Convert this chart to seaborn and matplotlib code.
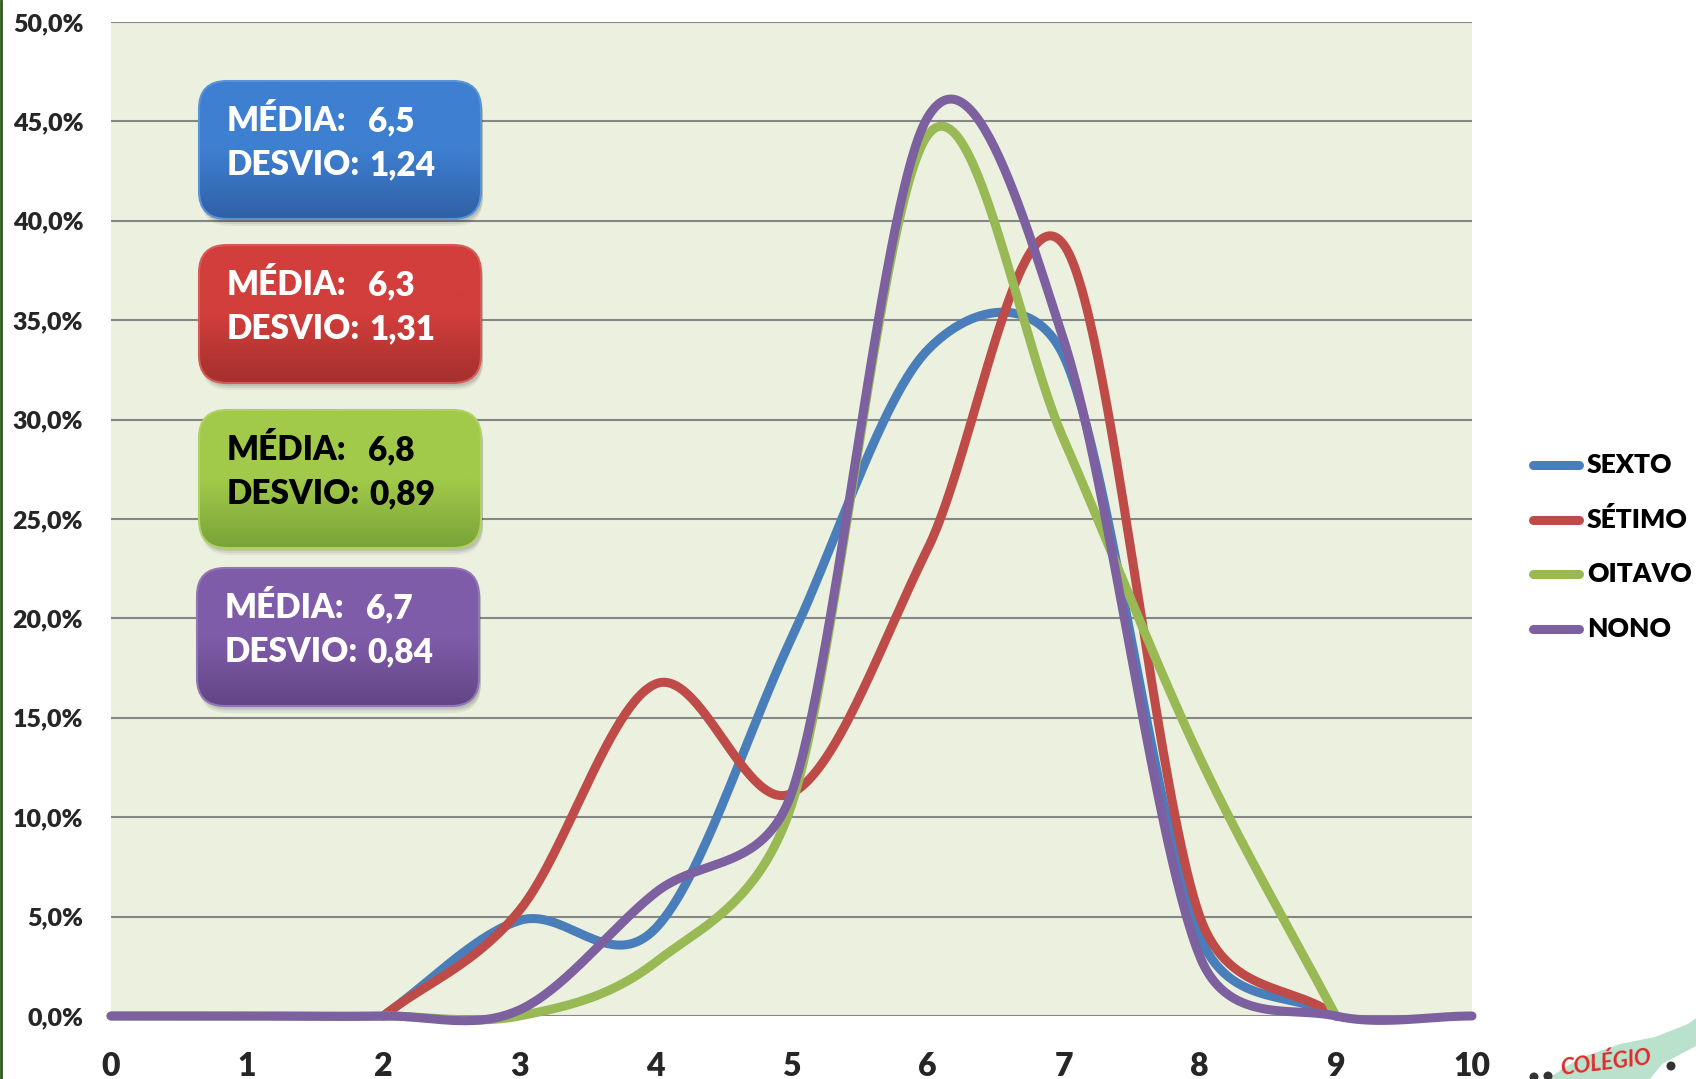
import numpy as np
import pandas as pd
import matplotlib
matplotlib.use('Agg')
import matplotlib.pyplot as plt
import seaborn as sns
from matplotlib.patches import FancyBboxPatch, Polygon, Circle
from matplotlib.colors import LinearSegmentedColormap
from matplotlib.ticker import FuncFormatter

# ---------------------------------------------------------------
# DADOS (percentual de alunos por nota; None = sem ponto)
# ---------------------------------------------------------------
notas = list(range(11))
sexto = [None, None, 0, 4.8, 4.4, 19.0, 33.5, 33.2, 4.0, 0, None]
setimo = [None, None, 0, 5.3, 16.7, 11.2, 23.5, 38.8, 5.0, 0, None]
oitavo = [0, 0, 0, 0, 2.7, 10.6, 44.3, 29.0, 13.0, 0, None]
nono = [0, 0, 0, 0.3, 6.2, 11.2, 45.2, 34.0, 3.0, 0, 0]

series = ['SEXTO', 'SÉTIMO', 'OITAVO', 'NONO']
valores = [sexto, setimo, oitavo, nono]
cores = ['#4A7EBB', '#BE4B48', '#98B954', '#7D60A0']
medias = ['6,5', '6,3', '6,8', '6,7']
desvios = ['1,24', '1,31', '0,89', '0,84']

W, H = 1696, 1079
SX = 1361 / 10.0   # pixels por nota
SY = 994 / 50.0    # pixels por ponto percentual
PESO = 'heavy'


def suaviza(xs, ys, n=60):
    # linha suavizada no estilo do Excel (Bezier com tensao 1/6)
    pares = [(x, y) for x, y in zip(xs, ys) if y is not None]
    P = np.array(pares, float) * [SX, SY]
    out = []
    for i in range(len(P) - 1):
        p1, p2 = P[i], P[i + 1]
        p0 = P[i - 1] if i > 0 else p1
        p3 = P[i + 2] if i + 2 < len(P) else p2
        d12 = np.linalg.norm(p2 - p1)
        o1 = (p2 - p0) * (1 / 6 if i > 0 else 1 / 3)
        o2 = (p3 - p1) * (1 / 6 if i + 2 < len(P) else 1 / 3)
        for o in (o1, o2):
            L = np.linalg.norm(o)
            if L > d12 / 2:
                o *= (d12 / 2) / L
        b1, b2 = p1 + o1, p2 - o2
        t = np.linspace(0, 1, n)[:, None]
        c = (1 - t) ** 3 * p1 + 3 * (1 - t) ** 2 * t * b1 + 3 * (1 - t) * t ** 2 * b2 + t ** 3 * p2
        out.append(c if i == 0 else c[1:])
    c = np.vstack(out)
    return c[:, 0] / SX, c[:, 1] / SY


frames = []
for nome, v in zip(series, valores):
    x, y = suaviza(notas, v)
    frames.append(pd.DataFrame({'nota': x, 'pct': y, 'serie': nome}))
df = pd.concat(frames, ignore_index=True)

# ---------------------------------------------------------------
# GRAFICO
# ---------------------------------------------------------------
sns.set_style('white')
plt.rcParams['font.family'] = ['Lato', 'DejaVu Sans']

fig = plt.figure(figsize=(W / 100, H / 100), dpi=100)
ax = fig.add_axes([111 / W, 1 - 1016 / H, (1472 - 111) / W, (1016 - 22) / H])

sns.lineplot(data=df, x='nota', y='pct', hue='serie', hue_order=series,
             palette=dict(zip(series, cores)), estimator=None, sort=False,
             linewidth=6.5, legend=False, ax=ax)
for ln in ax.lines:
    ln.set_clip_on(False)
    ln.set_solid_capstyle('round')
    ln.set_solid_joinstyle('round')

ax.set_xlim(0, 10)
ax.set_ylim(0, 50)
ax.set_facecolor('#EBF1DE')
ax.set_xticks(notas)
ax.set_yticks(np.arange(0, 51, 5))
ax.yaxis.set_major_formatter(FuncFormatter(lambda v, p: f'{v:.1f}%'.replace('.', ',')))
ax.grid(axis='y', color='#868686', linewidth=1.5)
ax.grid(axis='x', visible=False)
ax.set_axisbelow(True)
for s in ax.spines.values():
    s.set_visible(False)
ax.tick_params(axis='y', length=0, pad=20, labelsize=18)
ax.tick_params(axis='x', length=0, pad=26, labelsize=23)
for lb in ax.get_xticklabels() + ax.get_yticklabels():
    lb.set_fontweight(PESO)
ax.set_xlabel('')
ax.set_ylabel('')

# ---------------------------------------------------------------
# CAIXAS, LEGENDA E LOGO (camada em pixels)
# ---------------------------------------------------------------
ov = fig.add_axes([0, 0, 1, 1], zorder=5)
ov.patch.set_alpha(0)
ov.axis('off')

caixas = [(199, 81, 481, 219), (199, 245, 481, 383), (199, 410, 481, 548), (197, 568, 479, 706)]
topo = ['#3E7FD0', '#D23E3B', '#A2CA4A', '#7F5CA9']
base = ['#2F60A6', '#A4302E', '#78A338', '#634586']
borda = ['#5B93D8', '#D85A57', '#AFD164', '#9076B5']
cor_txt = ['white', 'white', 'black', 'white']
grad = np.linspace(0, 1, 256).reshape(-1, 1)
for (x0, y0, x1, y1), ct, cb, cbd, tc, m, d in zip(caixas, topo, base, borda, cor_txt, medias, desvios):
    for k, a in [(7, 0.05), (5, 0.07), (3, 0.09)]:
        ov.add_patch(FancyBboxPatch((x0 + 2, y0 + k), x1 - x0, y1 - y0,
                                    boxstyle='round,pad=0,rounding_size=28',
                                    fc='black', ec='none', alpha=a))
    caixa = FancyBboxPatch((x0, y0), x1 - x0, y1 - y0,
                           boxstyle='round,pad=0,rounding_size=28',
                           fc='none', ec=cbd, lw=1.5, zorder=3)
    ov.add_patch(caixa)
    im = ov.imshow(grad, extent=(x0, x1, y1, y0), origin='upper', aspect='auto',
                   cmap=LinearSegmentedColormap.from_list('g', [ct, ct, cb]), zorder=2)
    im.set_clip_path(caixa)
    yc = (y0 + y1) / 2
    ov.text(x0 + 28, yc - 29, 'MÉDIA:', color=tc, fontsize=24, weight=PESO, va='center', zorder=4)
    ov.text(x0 + 169, yc - 29, m, color=tc, fontsize=24, weight=PESO, va='center', zorder=4)
    ov.text(x0 + 28, yc + 15, 'DESVIO:', color=tc, fontsize=24, weight=PESO, va='center', zorder=4)
    ov.text(x0 + 170, yc + 15, d, color=tc, fontsize=24, weight=PESO, va='center', zorder=4)

# legenda
for nome, cor, yy in zip(series, cores, [465, 519.5, 574.3, 629.3]):
    ov.plot([1533, 1579], [yy, yy], color=cor, lw=6.5, solid_capstyle='round')
    ov.text(1587, yy, nome, fontsize=19, weight=PESO, va='center', color='black')

# borda verde e logo
ov.plot([1, 1], [0, H], color='#2E5A1C', lw=2)
ov.add_patch(Polygon([(1547, 1079), (1580, 1058), (1620, 1044), (1655, 1037), (1688, 1024),
                      (1696, 1018), (1696, 1046), (1662, 1064), (1650, 1079)], closed=True,
                     fc='#B9E1CC', ec='none'))
ov.text(1606, 1063, 'COLÉGIO', color='#E02A2A', fontsize=16, weight='bold',
        style='italic', rotation=7, ha='center', va='center')
for cx, cy in [(1671, 1066), (1548, 1076), (1534, 1077)]:
    ov.add_patch(Circle((cx, cy), 4.5, fc='#333333', ec='none'))

ov.set_xlim(0, W)
ov.set_ylim(H, 0)

fig.savefig('out.png', dpi=100)
